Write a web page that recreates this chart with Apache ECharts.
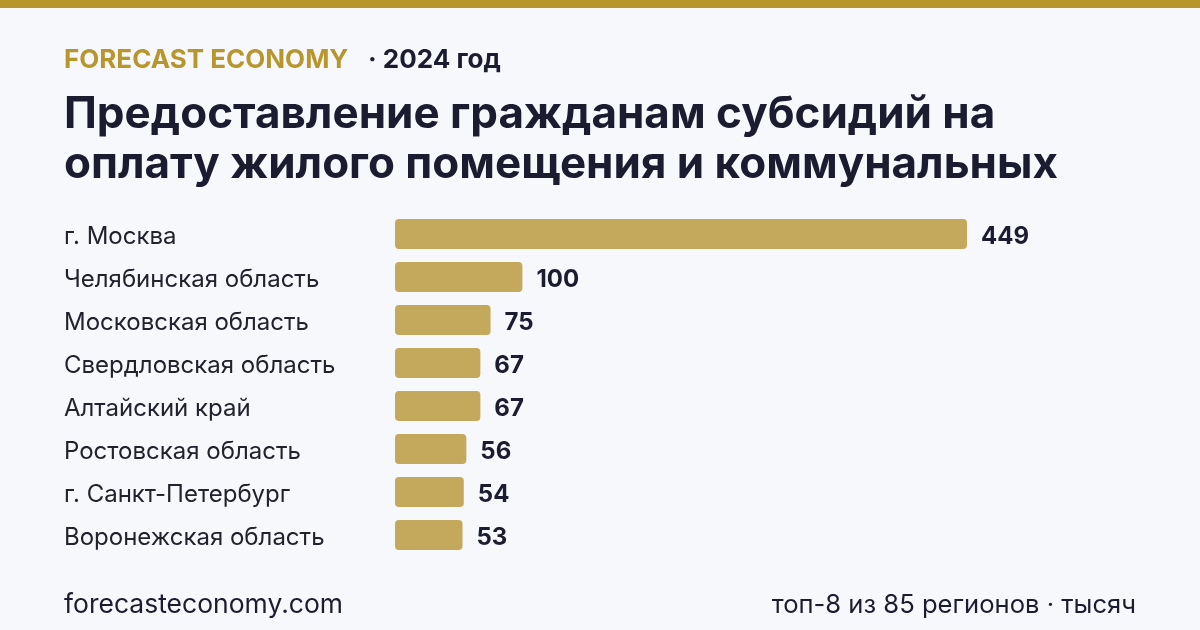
<!DOCTYPE html>
<html>
<head>
<meta charset="utf-8">
<script src="https://cdn.jsdelivr.net/npm/echarts@6/dist/echarts.min.js"></script>
<style>
  html, body { margin: 0; padding: 0; background: #f7f8fc; }
  #chart { width: 1200px; height: 630px; }
</style>
</head>
<body>
<div id="chart"></div>
<script>
const regions = ['г. Москва', 'Челябинская область', 'Московская область', 'Свердловская область',
  'Алтайский край', 'Ростовская область', 'г. Санкт-Петербург', 'Воронежская область']
const values = [449, 100, 75, 67, 67, 56, 54, 53]

const gold = '#b8962e'
const barColor = '#c4a85c'
const ink = '#1c1c30'
const font = 'Inter, "Noto Sans", sans-serif'

const chart = echarts.init(document.getElementById('chart'))
const option = {
  backgroundColor: '#f7f8fc',
  animation: false,
  textStyle: { fontFamily: font },
  graphic: [
    { type: 'rect', left: 0, top: 0, shape: { width: 1200, height: 8 }, style: { fill: gold } },
    { type: 'text', left: 64, top: 47, style: { text: 'FORECAST ECONOMY', font: 'bold 26px ' + font, fill: gold } },
    { type: 'text', left: 368, top: 47, style: { text: '· 2024 год', font: 'bold 26px ' + font, fill: ink } },
    { type: 'text', left: 64, top: 93, style: { text: 'Предоставление гражданам субсидий на', font: 'bold 44px ' + font, fill: ink } },
    { type: 'text', left: 64, top: 143, style: { text: 'оплату жилого помещения и коммунальных', font: 'bold 44px ' + font, fill: ink } },
    { type: 'text', left: 64, top: 592, style: { text: 'forecasteconomy.com', font: '26.5px ' + font, fill: ink } },
    { type: 'text', right: 64, top: 592, style: { text: 'топ-8 из 85 регионов · тысяч', font: '25.6px ' + font, fill: ink } },
  ],
  grid: {
    left: 395,
    right: 233,
    top: 212.5,
    bottom: 73.5,
  },
  xAxis: {
    type: 'value',
    min: 0,
    max: 449,
    show: false,
  },
  yAxis: {
    type: 'category',
    inverse: true,
    data: regions,
    axisLine: { show: false },
    axisTick: { show: false },
    axisLabel: {
      align: 'left',
      margin: 331,
      formatter: (v) => '{r|' + v + '}',
      rich: {
        r: {
          fontSize: 24,
          color: '#22222e',
          fontFamily: font,
          padding: [6, 0, 0, 0],
        },
      },
    },
  },
  series: [
    {
      type: 'bar',
      data: values,
      barWidth: 30,
      itemStyle: { color: barColor, borderRadius: 4 },
      label: {
        show: true,
        position: 'right',
        distance: 14,
        offset: [0, 3],
        fontSize: 24,
        fontWeight: 'bold',
        color: ink,
        fontFamily: font,
      },
    },
  ],
}
chart.setOption(option)
</script>
</body>
</html>
